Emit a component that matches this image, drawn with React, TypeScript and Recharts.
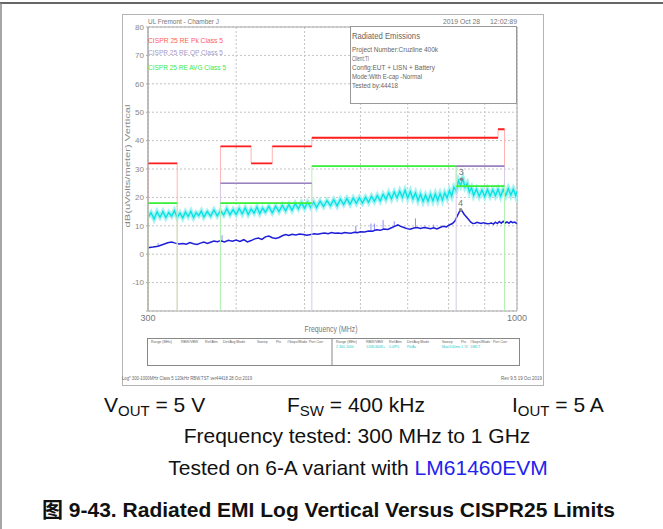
import { LineChart, Line, XAxis, YAxis, CartesianGrid, ReferenceArea, ReferenceDot } from 'recharts';

// CISPR 25 class 5 limit bands: [start MHz, stop MHz, dBuV/m]
const PK_BANDS: [number, number, number][] = [
  [300, 330, 32],
  [380, 420, 38],
  [420, 450, 32],
  [450, 512, 38],
  [512, 940, 41],
  [940, 960, 44],
];
const QP_BANDS: [number, number, number][] = [
  [380, 512, 25],
  [820, 960, 31],
];
const AVG_BANDS: [number, number, number][] = [
  [300, 330, 18],
  [380, 512, 18],
  [512, 820, 31],
  [820, 960, 24],
];

// peak scan (cyan)
const PEAK_SCAN: [number, number][] = [
  [300, 13.0], [303, 14.6], [306, 12.4], [309, 14.9], [312, 13.1], [315, 15.0], [318, 12.9], [321, 14.7],
  [324, 13.4], [327, 15.3], [330, 13.0], [333, 14.5], [336, 12.8], [339, 14.9], [342, 13.3], [345, 15.1],
  [348, 12.9], [351, 14.6], [354, 13.6], [357, 15.2], [360, 13.1], [364, 15.0], [368, 13.4], [372, 15.6],
  [376, 13.5], [380, 15.3], [384, 13.8], [388, 16.0], [392, 13.9], [396, 15.7], [400, 14.0], [404, 16.1],
  [408, 14.2], [412, 16.3], [416, 14.0], [420, 15.9], [424, 14.5], [428, 16.6], [432, 14.3], [436, 16.2],
  [440, 14.8], [445, 16.8], [450, 14.6], [455, 16.9], [460, 15.0], [465, 17.2], [470, 15.3], [475, 17.4],
  [480, 15.5], [485, 17.8], [490, 16.0], [495, 18.1], [500, 16.2], [505, 18.3], [510, 16.5], [515, 18.4],
  [520, 16.4], [526, 18.7], [532, 16.8], [538, 18.9], [544, 17.1], [550, 19.2], [556, 17.0], [562, 19.4],
  [568, 17.5], [574, 19.6], [580, 17.6], [586, 19.8], [592, 17.9], [598, 19.9], [604, 18.0], [610, 20.1],
  [616, 18.3], [622, 20.4], [628, 18.6], [634, 20.7], [640, 18.8], [646, 21.1], [652, 19.3], [658, 21.6],
  [664, 19.5], [670, 21.9], [676, 19.9], [682, 22.2], [688, 20.0], [694, 22.5], [700, 19.8], [706, 22.1],
  [712, 19.5], [718, 21.6], [724, 18.9], [730, 21.1], [736, 18.6], [742, 20.8], [748, 18.7], [754, 21.0],
  [760, 18.8], [766, 21.2], [772, 18.9], [778, 21.3], [784, 19.1], [790, 21.6], [796, 19.8], [802, 22.4],
  [808, 20.5], [814, 23.6], [820, 22.3], [826, 25.9], [832, 24.2], [838, 26.6], [844, 23.6], [850, 24.9],
  [856, 21.9], [862, 23.4], [868, 20.7], [876, 22.9], [884, 20.4], [892, 22.6], [900, 20.3], [908, 22.8],
  [916, 20.5], [924, 22.7], [932, 20.6], [940, 22.9], [948, 20.4], [956, 22.8], [964, 20.7], [972, 23.1],
  [980, 20.8], [988, 22.9], [996, 20.6], [1000, 22.2],
];

// average scan (blue)
const AVG_SCAN: [number, number][] = [
  [300, 2.3], [305, 2.5], [310, 2.8], [315, 3.4], [320, 4.0], [324, 4.3], [328, 3.9], [332, 3.6],
  [336, 3.8], [340, 3.5], [344, 4.1], [348, 3.7], [352, 3.4], [356, 3.9], [360, 4.3], [364, 3.8],
  [368, 4.2], [372, 4.6], [376, 4.4], [380, 4.7], [385, 4.3], [390, 4.9], [395, 4.6], [400, 5.0],
  [405, 4.5], [410, 5.1], [415, 4.3], [420, 4.8], [425, 5.4], [430, 5.7], [435, 5.2], [440, 6.1],
  [445, 6.4], [450, 5.8], [455, 5.5], [460, 5.9], [465, 6.5], [470, 6.9], [475, 6.6], [480, 7.0],
  [486, 6.8], [492, 7.1], [498, 6.9], [504, 6.7], [510, 6.9], [516, 7.2], [522, 7.0], [528, 7.3],
  [534, 7.5], [540, 7.2], [546, 7.6], [552, 7.4], [558, 7.5], [564, 7.3], [570, 7.6], [576, 7.5],
  [582, 7.4], [588, 7.7], [594, 7.6], [600, 7.9], [608, 7.8], [616, 8.2], [624, 8.1], [632, 8.6],
  [640, 8.4], [648, 8.9], [656, 8.7], [664, 9.3], [672, 9.9], [678, 10.3], [684, 9.8], [690, 9.5],
  [698, 9.0], [706, 8.8], [714, 9.2], [722, 9.4], [730, 9.1], [738, 9.4], [746, 9.2], [754, 9.0],
  [762, 9.3], [770, 8.9], [778, 9.4], [786, 9.8], [794, 9.6], [802, 10.3], [810, 10.8], [816, 11.6],
  [822, 13.2], [828, 14.8], [832, 15.6], [836, 15.2], [842, 14.0], [848, 13.1], [854, 12.2], [860, 11.3],
  [866, 10.8], [872, 10.9], [878, 11.2], [884, 11.0], [890, 10.8], [896, 11.1], [902, 10.9], [908, 10.7],
  [914, 10.8], [920, 11.0], [926, 10.6], [932, 11.3], [938, 10.8], [944, 11.5], [950, 10.9], [956, 11.6],
  [962, 11.0], [968, 11.4], [974, 10.9], [980, 11.5], [986, 11.1], [992, 11.3], [1000, 10.8],
];

// narrow spikes on the average trace: [MHz, base, top]
const AVG_SPIKES: [number, number, number][] = [
  [310, 2.8, 3.9], [382, 4.6, 6.7], [591, 7.6, 10.0], [621, 8.1, 10.8], [628, 8.2, 10.8],
  [646, 8.6, 12.0], [670, 9.7, 11.6], [718, 9.3, 12.6], [741, 9.3, 10.0], [762, 9.2, 10.4],
];

const MARKERS = [
  { id: '3', f: 834, v: 26.4 },
  { id: '4', f: 832, v: 15.6 },
];

const X_TICKS = [300, 400, 500, 600, 700, 800, 900, 1000];
const Y_TICKS = [-20, -10, 0, 10, 20, 30, 40, 50, 60, 70, 80];
const FLOOR = -20;

type Pt = { f: number; v: number | null };

// full step trace, dropping to the floor at band gaps
function stepTrace(bands: [number, number, number][]): Pt[] {
  const out: Pt[] = [];
  bands.forEach(([lo, hi, lvl], i) => {
    const prev = bands[i - 1];
    const next = bands[i + 1];
    if (!prev || prev[1] !== lo) out.push({ f: lo, v: FLOOR });
    out.push({ f: lo, v: lvl }, { f: hi, v: lvl });
    if (!next || next[0] !== hi) {
      out.push({ f: hi, v: FLOOR });
      out.push({ f: hi, v: null });
    }
  });
  return out;
}

function levels(bands: [number, number, number][]): Pt[] {
  const out: Pt[] = [];
  bands.forEach(([lo, hi, lvl]) => {
    out.push({ f: lo, v: lvl }, { f: hi, v: lvl }, { f: hi, v: null });
  });
  return out;
}

const peakData = PEAK_SCAN.map(([f, v]) => ({ f, v }));
const avgData = AVG_SCAN.map(([f, v]) => ({ f, v }));
const spikeData: Pt[] = [];
AVG_SPIKES.forEach(([f, lo, hi]) => {
  spikeData.push({ f, v: lo }, { f, v: hi }, { f, v: null });
});

const PLOT_FONT = '"Liberation Sans", Arial, sans-serif';

function T({ x, y, w, size = 7, fill = '#777', anchor = 'start', children }: any) {
  return (
    <text
      x={x}
      y={y}
      fontSize={size}
      fill={fill}
      textAnchor={anchor}
      fontFamily={PLOT_FONT}
      textLength={w}
      lengthAdjust={w ? 'spacingAndGlyphs' : undefined}
    >
      {children}
    </text>
  );
}

const TABLE_HEAD = ['Range (MHz)', 'RBW/VBW', 'Ref/Attn', 'Det/Avg Mode', 'Sweep', 'Pts', '#Swps/Mode', 'Port Corr'];
const TABLE_LEFT_X = [151, 181, 205, 223, 257, 276, 287, 309];
const TABLE_RIGHT_X = [336, 366, 389, 407, 442, 461, 470, 493];
const TABLE_VALUES = ['2 300-1000', '120K/400K+', '0.0/P0', 'Pk/Av', 'Max/100ms', '1 74', '1/MCT', ''];

function Overlay() {
  return (
    <svg width={663} height={529} style={{ position: 'absolute', left: 0, top: 0, pointerEvents: 'none' }}>
      {/* figure frame */}
      <line x1={0} y1={3} x2={663} y2={3} stroke="#666" strokeWidth={2} />
      <line x1={1} y1={3} x2={1} y2={529} stroke="#888" strokeWidth={1.5} />
      <rect x={122.5} y={14.5} width={421} height={371} fill="none" stroke="#b4b4b4" />

      {/* header */}
      <T x={148} y={24} w={71} size={8}>UL Fremont - Chamber J</T>
      <T x={443} y={24} w={37} size={8}>2019 Oct 28</T>
      <T x={490} y={24} w={27} size={8}>12:02:89</T>

      {/* legend */}
      <T x={148} y={43} w={75} size={8} fill="#ff5a5a">CISPR 25 RE Pk Class 5</T>
      <T x={148} y={55} w={75} size={8} fill="#a898c8">CISPR 25 RE QP Class 5</T>
      <T x={148} y={70} w={78} size={8} fill="#3ee83e">CISPR 25 RE AVG Class 5</T>

      {/* info box */}
      <rect x={350.5} y={26.5} width={166} height={77} fill="#fff" stroke="#999" />
      <T x={352} y={39} w={68} size={9} fill="#666">Radiated Emissions</T>
      <T x={352} y={52} w={86} size={7} fill="#666">Project Number:Cruzline 400k</T>
      <T x={352} y={61} w={17} size={7} fill="#666">Client:TI</T>
      <T x={352} y={70} w={83} size={7} fill="#666">Config:EUT + LISN + Battery</T>
      <T x={352} y={79} w={70} size={7} fill="#666">Mode:With E-cap -Normal</T>
      <T x={352} y={88} w={46} size={7} fill="#666">Tested by:44418</T>

      {/* axis titles */}
      <g transform="translate(130,166) rotate(-90)">
        <T x={0} y={0} w={123} size={8} fill="#888" anchor="middle">dB(uVolts/meter) Vertical</T>
      </g>
      <T x={331} y={332} w={53} size={9} fill="#777" anchor="middle">Frequency (MHz)</T>

      {/* settings table */}
      <rect x={147.5} y={338.5} width={372} height={27} fill="none" stroke="#888" />
      <line x1={332} y1={338.5} x2={332} y2={365.5} stroke="#888" />
      {TABLE_HEAD.map((h, i) => (
        <T key={'l' + i} x={TABLE_LEFT_X[i]} y={343} size={3.5} fill="#666">{h}</T>
      ))}
      {TABLE_HEAD.map((h, i) => (
        <T key={'r' + i} x={TABLE_RIGHT_X[i]} y={343} size={3.5} fill="#666">{h}</T>
      ))}
      {TABLE_VALUES.map((h, i) => (
        <T key={'v' + i} x={TABLE_RIGHT_X[i]} y={348} size={3.5} fill="#22cccc">{h}</T>
      ))}

      {/* footer */}
      <T x={122} y={380} w={130} size={5} fill="#666">Log* 300-1000MHz Class 5 120kHz RBW.TST  ver44418 28 Oct 2019</T>
      <T x={542} y={380} w={41} size={5} fill="#666" anchor="end">Rev 9.5 19 Oct 2019</T>

      {/* conditions */}
      <g fontFamily={PLOT_FONT} fill="#111" fontSize={21}>
        <text x={104} y={412}>
          V<tspan fontSize={15} dy={4}>OUT</tspan><tspan dy={-4}> = 5 V</tspan>
        </text>
        <text x={287} y={412}>
          F<tspan fontSize={15} dy={4}>SW</tspan><tspan dy={-4}> = 400 kHz</tspan>
        </text>
        <text x={512} y={412}>
          I<tspan fontSize={15} dy={4}>OUT</tspan><tspan dy={-4}> = 5 A</tspan>
        </text>
        <text x={357} y={443} textAnchor="middle">Frequency tested: 300 MHz to 1 GHz</text>
        <text x={358} y={475} textAnchor="middle">
          Tested on 6-A variant with <tspan fill="#2323ee">LM61460EVM</tspan>
        </text>
      </g>
      <text
        x={42}
        y={517}
        fontSize={21}
        fontWeight="bold"
        fill="#111"
        fontFamily={'"Liberation Sans", Arial, "Noto Sans CJK SC", sans-serif'}
      >
        图 9-43. Radiated EMI Log Vertical Versus CISPR25 Limits
      </text>
    </svg>
  );
}

export default function App() {
  return (
    <div style={{ position: 'absolute', left: 0, top: 0, width: 663, height: 529, background: '#fff', overflow: 'hidden' }}>
      <div style={{ position: 'absolute', left: 0, top: 0 }}>
        <LineChart width={663} height={529} margin={{ top: 27, right: 146, bottom: 204, left: 124 }}>
          <CartesianGrid strokeDasharray="2 2" stroke="#c4c4c4" />
          <XAxis
            dataKey="f"
            type="number"
            scale="log"
            domain={[300, 1000]}
            allowDataOverflow
            ticks={X_TICKS}
            interval={0}
            height={14}
            axisLine={false}
            tickLine={false}
            tickSize={2}
            tickFormatter={(v: number) => (v === 300 || v === 1000 ? String(v) : '')}
            tick={{ fontSize: 9, fill: '#777', fontFamily: PLOT_FONT }}
          />
          <YAxis
            type="number"
            domain={[-20, 80]}
            ticks={Y_TICKS}
            interval={0}
            width={24}
            allowDataOverflow
            axisLine={{ stroke: '#aaa' }}
            tickLine={{ stroke: '#aaa' }}
            tickSize={2}
            tickFormatter={(v: number) => (v === -20 ? '' : String(v))}
            tick={{ fontSize: 8, fill: '#888', fontFamily: PLOT_FONT }}
          />
          <ReferenceArea x1={300} x2={1000} y1={-20} y2={80} fill="none" stroke="#aaa" ifOverflow="visible" />

          {/* peak scan: soft halo + core to give the noisy band look */}
          <Line data={peakData} dataKey="v" stroke="#a6f3f3" strokeWidth={4.5} dot={false} isAnimationActive={false} />
          <Line data={peakData} dataKey="v" stroke="#08e2e2" strokeWidth={1.4} dot={false} isAnimationActive={false} />
          <Line data={spikeData} dataKey="v" stroke="#8a8aff" strokeWidth={1} dot={false} isAnimationActive={false} />
          <Line data={avgData} dataKey="v" stroke="#1e1ed8" strokeWidth={1.5} dot={false} isAnimationActive={false} />

          <Line data={stepTrace(PK_BANDS)} dataKey="v" stroke="#ffb4b4" strokeWidth={1} dot={false} isAnimationActive={false} />
          <Line data={stepTrace(QP_BANDS)} dataKey="v" stroke="#d6cce6" strokeWidth={1} dot={false} isAnimationActive={false} />
          <Line data={stepTrace(AVG_BANDS)} dataKey="v" stroke="#b4f2b4" strokeWidth={1} dot={false} isAnimationActive={false} />
          <Line data={levels(PK_BANDS)} dataKey="v" stroke="#ff1e1e" strokeWidth={1.8} dot={false} isAnimationActive={false} />
          <Line data={levels(QP_BANDS)} dataKey="v" stroke="#9a82c0" strokeWidth={1.6} dot={false} isAnimationActive={false} />
          <Line data={levels(AVG_BANDS)} dataKey="v" stroke="#3af03a" strokeWidth={1.8} dot={false} isAnimationActive={false} />

          {MARKERS.map((m) => (
            <ReferenceDot
              key={m.id}
              x={m.f}
              y={m.v}
              r={1.8}
              fill="#888"
              stroke="none"
              label={{ value: m.id, position: 'top', offset: 2, fontSize: 9, fill: '#777', fontFamily: PLOT_FONT }}
            />
          ))}
        </LineChart>
      </div>
      <Overlay />
    </div>
  );
}
